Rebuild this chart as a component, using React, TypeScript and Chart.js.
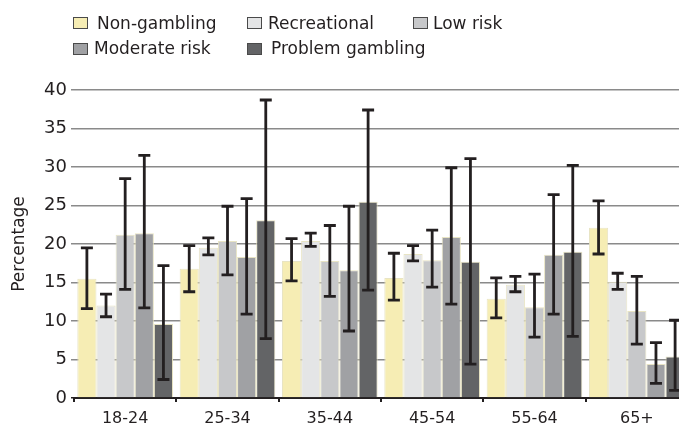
import React, { useEffect, useRef } from "react";
import { Chart, registerables } from "chart.js";

Chart.register(...registerables);

const categories = ["18-24", "25-34", "35-44", "45-54", "55-64", "65+"];
const seriesNames = ["Non-gambling", "Recreational", "Low risk", "Moderate risk", "Problem gambling"];
const seriesColors = ["#f6edb4", "#e4e5e6", "#c7c8ca", "#a0a1a4", "#636466"];

const nonGambling = [15.5, 16.8, 17.8, 15.6, 12.9, 22.1];
const nonGamblingLow = [11.6, 13.8, 15.2, 12.7, 10.4, 18.7];
const nonGamblingHigh = [19.5, 19.8, 20.7, 18.8, 15.6, 25.6];

const recreational = [12.0, 19.5, 20.4, 18.7, 14.7, 15.1];
const recreationalLow = [10.55, 18.6, 19.7, 17.8, 13.8, 14.1];
const recreationalHigh = [13.5, 20.8, 21.4, 19.8, 15.8, 16.2];

const lowRisk = [21.2, 20.4, 17.8, 17.9, 11.8, 11.3];
const lowRiskLow = [14.1, 16.0, 13.2, 14.4, 7.9, 7.0];
const lowRiskHigh = [28.5, 24.9, 22.4, 21.8, 16.1, 15.8];

const moderateRisk = [21.4, 18.3, 16.6, 20.9, 18.6, 4.4];
const moderateRiskLow = [11.7, 10.9, 8.7, 12.2, 10.9, 1.9];
const moderateRiskHigh = [31.5, 25.9, 24.9, 29.9, 26.4, 7.2];

const problemGambling = [9.6, 23.1, 25.5, 17.7, 19.0, 5.4];
const problemGamblingLow = [2.4, 7.7, 14.0, 4.4, 8.0, 1.0];
const problemGamblingHigh = [17.2, 38.7, 37.4, 31.1, 30.2, 10.1];

const yMin = 0;
const yMax = 40;
const yStep = 5;
const yTitle = "Percentage";

const seriesValues = [nonGambling, recreational, lowRisk, moderateRisk, problemGambling];
const seriesLows = [nonGamblingLow, recreationalLow, lowRiskLow, moderateRiskLow, problemGamblingLow];
const seriesHighs = [nonGamblingHigh, recreationalHigh, lowRiskHigh, moderateRiskHigh, problemGamblingHigh];

const FONT = "'DejaVu Sans', 'Open Sans', sans-serif";
const INK = "#231f20";

const errorBarPlugin = {
  id: "errorBars",
  afterDatasetsDraw(chart: any) {
    const ctx = chart.ctx;
    const yScale = chart.scales.y;
    ctx.save();
    ctx.strokeStyle = INK;
    ctx.lineWidth = 2.8;
    ctx.lineCap = "butt";
    chart.data.datasets.forEach((ds: any, i: number) => {
      const meta = chart.getDatasetMeta(i);
      meta.data.forEach((el: any, j: number) => {
        const x = el.x;
        const yHi = yScale.getPixelForValue(ds.errHigh[j]);
        const yLo = yScale.getPixelForValue(ds.errLow[j]);
        const half = 6;
        ctx.beginPath();
        ctx.moveTo(x, yHi);
        ctx.lineTo(x, yLo);
        ctx.moveTo(x - half, yHi);
        ctx.lineTo(x + half, yHi);
        ctx.moveTo(x - half, yLo);
        ctx.lineTo(x + half, yLo);
        ctx.stroke();
      });
    });
    ctx.restore();
  },
};

const legendPositions = [
  { box: [73, 17], text: [97, 22.5] },
  { box: [247, 17], text: [268, 22.5] },
  { box: [413, 17], text: [433, 22.5] },
  { box: [73, 43], text: [94, 47.5] },
  { box: [247, 43], text: [271, 47.5] },
];

export default function App() {
  const canvasRef = useRef<HTMLCanvasElement | null>(null);

  useEffect(() => {
    if (!canvasRef.current) return;
    const chart = new Chart(canvasRef.current, {
      type: "bar",
      data: {
        labels: categories,
        datasets: seriesNames.map((name, i) => ({
          label: name,
          data: seriesValues[i],
          errLow: seriesLows[i],
          errHigh: seriesHighs[i],
          backgroundColor: seriesColors[i],
          borderColor: "rgba(230,225,190,0.9)",
          borderWidth: { left: 1, right: 1, top: 1, bottom: 0 },
          categoryPercentage: 0.935,
          barPercentage: 1.0,
        })) as any,
      },
      options: {
        animation: false,
        responsive: false,
        layout: { padding: { top: 90, right: 12, bottom: 0, left: 0 } },
        plugins: {
          legend: { display: false },
          tooltip: { enabled: false },
        },
        scales: {
          x: {
            grid: {
              offset: true,
              drawOnChartArea: false,
              drawTicks: true,
              tickLength: 4,
              color: INK,
              lineWidth: 2,
            },
            border: { display: true, color: INK, width: 2 },
            ticks: {
              font: { family: FONT, size: 16 },
              color: INK,
              padding: 7,
              maxRotation: 0,
            },
            afterFit(scale: any) {
              scale.height = 38;
            },
          },
          y: {
            min: yMin,
            max: yMax,
            ticks: {
              stepSize: yStep,
              font: { family: FONT, size: 18 },
              color: INK,
              padding: 4,
            },
            grid: {
              color: (c: any) => (c.tick && c.tick.value === 0 ? INK : "#8a8a8a"),
              lineWidth: 1.5,
              tickLength: 3,
              drawTicks: true,
            },
            border: { display: false },
            title: {
              display: true,
              text: yTitle,
              font: { family: FONT, size: 17 },
              color: INK,
              padding: { top: 9, bottom: 0 },
            },
            afterFit(scale: any) {
              scale.width = 74;
            },
          },
        },
      },
      plugins: [errorBarPlugin],
    });
    return () => chart.destroy();
  }, []);

  return (
    <div
      style={{
        position: "fixed",
        left: 0,
        top: 0,
        width: 679,
        height: 436,
        overflow: "hidden",
        background: "#fff",
      }}
    >
      <canvas ref={canvasRef} width={700} height={436} style={{ display: "block", width: 700, height: 436 }} />
      {seriesNames.map((name, i) => (
        <React.Fragment key={name}>
          <div
            style={{
              position: "absolute",
              left: legendPositions[i].box[0],
              top: legendPositions[i].box[1],
              width: 13,
              height: 10,
              background: seriesColors[i],
              border: "1px solid #4a4a4a",
            }}
          />
          <div
            style={{
              position: "absolute",
              left: legendPositions[i].text[0],
              top: legendPositions[i].text[1],
              transform: "translateY(-50%)",
              fontFamily: FONT,
              fontSize: 17,
              lineHeight: "20px",
              color: INK,
              whiteSpace: "nowrap",
            }}
          >
            {name}
          </div>
        </React.Fragment>
      ))}
    </div>
  );
}
